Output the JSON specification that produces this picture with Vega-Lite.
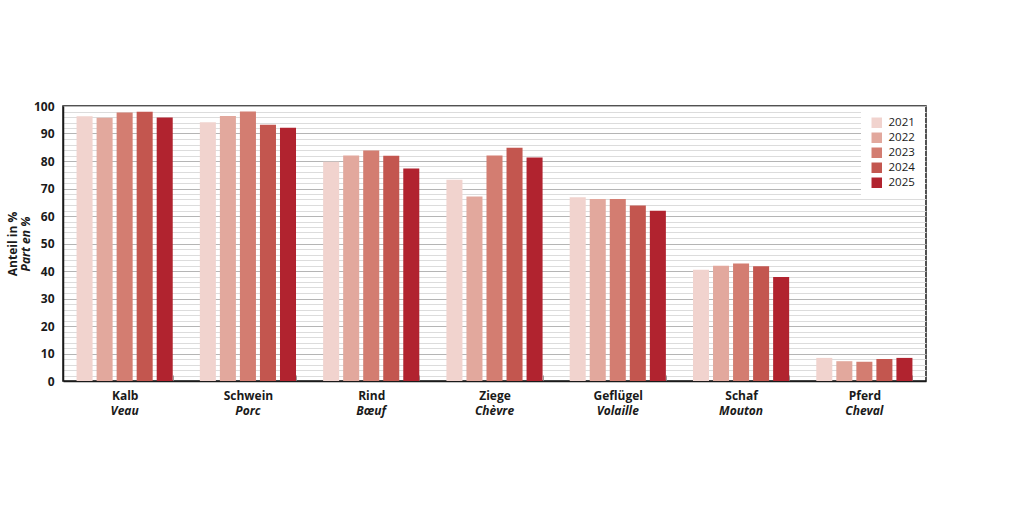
{
  "$schema": "https://vega.github.io/schema/vega-lite/v6.json",
  "autosize": "none",
  "width": 863,
  "height": 275,
  "padding": {"left": 63, "top": 106, "right": 98, "bottom": 131},
  "background": "white",
  "datasets": {
    "shares": [
      {"tier": "Kalb", "jahr": "2021", "anteil": 96.3},
      {"tier": "Kalb", "jahr": "2022", "anteil": 95.7},
      {"tier": "Kalb", "jahr": "2023", "anteil": 97.6},
      {"tier": "Kalb", "jahr": "2024", "anteil": 97.9},
      {"tier": "Kalb", "jahr": "2025", "anteil": 95.8},
      {"tier": "Schwein", "jahr": "2021", "anteil": 94.1},
      {"tier": "Schwein", "jahr": "2022", "anteil": 96.4},
      {"tier": "Schwein", "jahr": "2023", "anteil": 98.0},
      {"tier": "Schwein", "jahr": "2024", "anteil": 93.2},
      {"tier": "Schwein", "jahr": "2025", "anteil": 92.1},
      {"tier": "Rind", "jahr": "2021", "anteil": 79.7},
      {"tier": "Rind", "jahr": "2022", "anteil": 82.0},
      {"tier": "Rind", "jahr": "2023", "anteil": 83.8},
      {"tier": "Rind", "jahr": "2024", "anteil": 81.9},
      {"tier": "Rind", "jahr": "2025", "anteil": 77.3},
      {"tier": "Ziege", "jahr": "2021", "anteil": 73.2},
      {"tier": "Ziege", "jahr": "2022", "anteil": 67.1},
      {"tier": "Ziege", "jahr": "2023", "anteil": 82.0},
      {"tier": "Ziege", "jahr": "2024", "anteil": 84.8},
      {"tier": "Ziege", "jahr": "2025", "anteil": 81.3},
      {"tier": "Geflügel", "jahr": "2021", "anteil": 66.8},
      {"tier": "Geflügel", "jahr": "2022", "anteil": 66.2},
      {"tier": "Geflügel", "jahr": "2023", "anteil": 66.2},
      {"tier": "Geflügel", "jahr": "2024", "anteil": 63.8},
      {"tier": "Geflügel", "jahr": "2025", "anteil": 61.9},
      {"tier": "Schaf", "jahr": "2021", "anteil": 40.5},
      {"tier": "Schaf", "jahr": "2022", "anteil": 41.9},
      {"tier": "Schaf", "jahr": "2023", "anteil": 42.7},
      {"tier": "Schaf", "jahr": "2024", "anteil": 41.7},
      {"tier": "Schaf", "jahr": "2025", "anteil": 37.8},
      {"tier": "Pferd", "jahr": "2021", "anteil": 8.4},
      {"tier": "Pferd", "jahr": "2022", "anteil": 7.2},
      {"tier": "Pferd", "jahr": "2023", "anteil": 7.0},
      {"tier": "Pferd", "jahr": "2024", "anteil": 8.0},
      {"tier": "Pferd", "jahr": "2025", "anteil": 8.4}
    ],
    "namen": [
      {"tier": "Kalb", "fr": "Veau"},
      {"tier": "Schwein", "fr": "Porc"},
      {"tier": "Rind", "fr": "Bœuf"},
      {"tier": "Ziege", "fr": "Chèvre"},
      {"tier": "Geflügel", "fr": "Volaille"},
      {"tier": "Schaf", "fr": "Mouton"},
      {"tier": "Pferd", "fr": "Cheval"}
    ]
  },
  "layer": [
    {
      "data": {"name": "shares"},
      "mark": {"type": "bar"},
      "encoding": {
        "x": {
          "field": "tier",
          "type": "nominal",
          "sort": ["Kalb", "Schwein", "Rind", "Ziege", "Geflügel", "Schaf", "Pferd"],
          "scale": {"paddingInner": 0.22, "paddingOuter": 0.11},
          "axis": {
            "title": null,
            "labelAngle": 0,
            "labelFontWeight": "bold",
            "labelFontSize": 12,
            "labelPadding": 15,
            "tickBand": "extent",
            "tickColor": "#999999",
            "tickSize": -6,
            "grid": false
          }
        },
        "xOffset": {
          "field": "jahr",
          "type": "nominal",
          "scale": {"paddingInner": 0.2, "paddingOuter": 0}
        },
        "y": {
          "field": "anteil",
          "type": "quantitative",
          "scale": {"domain": [0, 100], "nice": false},
          "axis": {
            "title": "Anteil in %",
            "titleFontWeight": "bold",
            "titleFontSize": 12,
            "titlePadding": 14,
            "values": [0, 2, 4, 6, 8, 10, 12, 14, 16, 18, 20, 22, 24, 26, 28, 30, 32, 34, 36, 38, 40, 42, 44, 46, 48, 50, 52, 54, 56, 58, 60, 62, 64, 66, 68, 70, 72, 74, 76, 78, 80, 82, 84, 86, 88, 90, 92, 94, 96, 98, 100],
            "labelExpr": "datum.value % 10 === 0 ? datum.label : ''",
            "labelFontWeight": "bold",
            "labelFontSize": 12,
            "labelPadding": 9,
            "ticks": false,
            "grid": true,
            "gridColor": {"condition": {"test": "datum.value % 10 === 0", "value": "#b5b5b5"}, "value": "#dcdcdc"}
          }
        },
        "color": {
          "field": "jahr",
          "type": "nominal",
          "scale": {"range": ["#f1d3ce", "#e2a89d", "#d37d71", "#c3564f", "#b1232f"]},
          "legend": {
            "title": null,
            "orient": "top-right",
            "offset": 1,
            "padding": 10,
            "fillColor": "white",
            "symbolType": "square",
            "symbolSize": 110,
            "symbolStrokeWidth": 0,
            "labelFontSize": 11.5,
            "labelOffset": 6,
            "rowPadding": 2
          }
        }
      }
    },
    {
      "data": {"name": "namen"},
      "mark": {
        "type": "text",
        "dy": 30,
        "fontStyle": "italic",
        "fontWeight": "bold",
        "fontSize": 12,
        "color": "#1a1a1a"
      },
      "encoding": {
        "x": {
          "field": "tier",
          "type": "nominal",
          "sort": ["Kalb", "Schwein", "Rind", "Ziege", "Geflügel", "Schaf", "Pferd"]
        },
        "y": {
          "datum": 0,
          "type": "quantitative",
          "scale": {"domain": [0, 100], "nice": false},
          "axis": {
            "orient": "left",
            "title": "Part en %",
            "titleFontStyle": "italic",
            "titleFontWeight": "bold",
            "titleFontSize": 12,
            "titlePadding": 31,
            "labels": false,
            "ticks": false,
            "domain": false,
            "grid": false
          }
        },
        "text": {"field": "fr"}
      }
    }
  ],
  "resolve": {"scale": {"y": "independent"}},
  "config": {
    "font": "Open Sans",
    "view": {"stroke": "#1a1a1a", "strokeWidth": 1.5},
    "axis": {"domainColor": "#1a1a1a", "domainWidth": 1.5, "labelColor": "#1a1a1a", "titleColor": "#1a1a1a"},
    "legend": {"labelColor": "#1a1a1a"}
  }
}
